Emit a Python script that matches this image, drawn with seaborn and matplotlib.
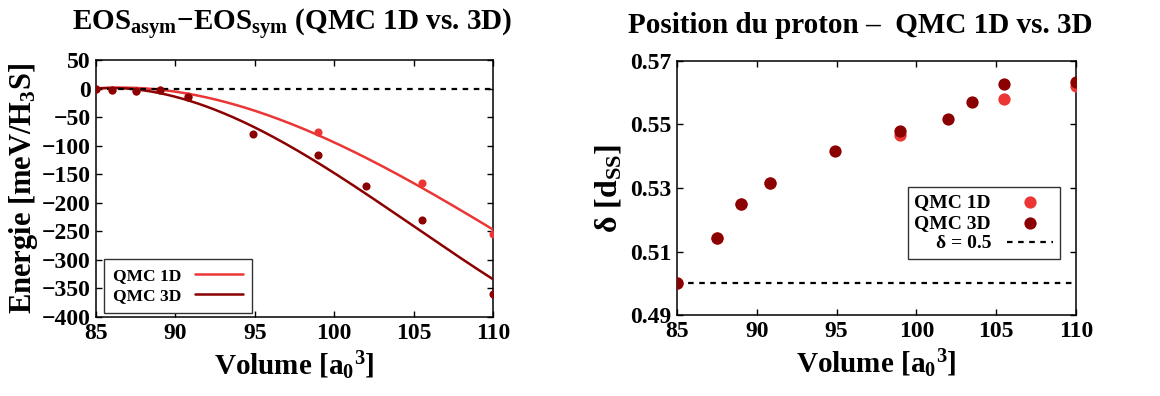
import numpy as np
import pandas as pd
import matplotlib
matplotlib.use("Agg")
import matplotlib.pyplot as plt
import seaborn as sns

# ---------------- data ----------------
# energy difference points
vol_e_1d = [85, 86, 87.5, 89, 90.8, 99, 105.5, 110]
e_1d = [0, -2.3, -3.5, -2.5, -13, -76, -166, -255]
vol_e_3d = [85, 86, 87.5, 89, 90.8, 94.9, 99, 102, 105.5, 110]
e_3d = [0, -2.3, -3.5, -2.5, -14.5, -79, -117, -171, -231, -360]

# fitted curves
vol_fit = [85, 87.5, 90, 92.5, 95, 97.5, 100, 102.5, 105, 107.5, 110]
fit_1d = [0, 1, -5, -20, -38, -64, -95, -128, -166, -205, -247]
fit_3d = [0, -3, -12, -35, -70, -108, -148, -193, -240, -287, -335]

# proton position points
vol_d_1d = [85, 87.5, 89, 90.8, 99, 105.5, 110]
d_1d = [0.500, 0.5143, 0.5249, 0.5317, 0.5467, 0.5579, 0.5620]
vol_d_3d = [85, 87.5, 89, 90.8, 94.9, 99, 102, 103.5, 105.5, 110]
d_3d = [0.500, 0.5143, 0.5249, 0.5317, 0.5417, 0.5479, 0.5516, 0.5572, 0.5629, 0.5634]

series_names = ["QMC 1D", "QMC 3D"]
delta_ref = 0.5
energy_ref = 0.0
x_ticks = [85, 90, 95, 100, 105, 110]
e_ticks = [50, 0, -50, -100, -150, -200, -250, -300, -350, -400]
d_ticks = [0.49, 0.51, 0.53, 0.55, 0.57]

# ---------------- style ----------------
sns.set_style("ticks")
plt.rcParams.update({
    "font.family": ["Liberation Serif", "DejaVu Serif"],
    "font.weight": "bold",
    "axes.labelweight": "bold",
    "axes.titleweight": "bold",
    "text.color": "black",
    "axes.labelcolor": "black",
    "axes.edgecolor": "black",
    "xtick.color": "black",
    "ytick.color": "black",
    "mathtext.fontset": "custom",
    "mathtext.rm": "Liberation Serif:bold",
    "mathtext.it": "Liberation Serif:bold:italic",
    "mathtext.bf": "Liberation Serif:bold",
    "mathtext.default": "rm",
    "axes.linewidth": 1.1,
    "xtick.direction": "in",
    "ytick.direction": "in",
    "xtick.top": True,
    "ytick.right": True,
    "xtick.major.size": 4.5,
    "ytick.major.size": 4.5,
    "xtick.major.width": 1.0,
    "ytick.major.width": 1.0,
})

c1 = "#ec3636"
c3 = "#8b0000"

fig = plt.figure(figsize=(11.6, 3.96), dpi=100)
axL = fig.add_axes([96 / 1160, 1 - 317 / 396, (493 - 96) / 1160, (317 - 60) / 396])
axR = fig.add_axes([677 / 1160, 1 - 315 / 396, (1076 - 677) / 1160, (315 - 61) / 396])

# ---------------- left panel ----------------
# smooth fit lines (cubic fit through the curve values)
xs = np.linspace(vol_fit[0], vol_fit[-1], 200)
smooth_1d = np.polyval(np.polyfit(vol_fit, fit_1d, 3), xs)
smooth_3d = np.polyval(np.polyfit(vol_fit, fit_3d, 3), xs)

df_ref = pd.DataFrame({"x": [x_ticks[0], x_ticks[-1]], "y": [energy_ref, energy_ref]})
sns.lineplot(data=df_ref, x="x", y="y", ax=axL, color="black", lw=1.6,
             linestyle=(0, (2.5, 2.5)), zorder=4)
sns.lineplot(x=xs, y=smooth_1d, ax=axL, color=c1, lw=1.8, label=series_names[0], zorder=3)
sns.lineplot(x=xs, y=smooth_3d, ax=axL, color=c3, lw=1.8, label=series_names[1], zorder=3)
sns.scatterplot(x=vol_e_1d, y=e_1d, ax=axL, color=c1, s=34, linewidth=0, zorder=5, legend=False)
sns.scatterplot(x=vol_e_3d, y=e_3d, ax=axL, color=c3, s=34, linewidth=0, zorder=6, legend=False)

axL.set_xlim(85, 110)
axL.set_ylim(-400, 50)
axL.set_xticks(x_ticks)
axL.set_yticks(e_ticks)
axL.tick_params(labelsize=17, pad=4)
axL.set_title(r"EOS$_{\rm asym}$−EOS$_{\rm sym}$ (QMC 1D vs. 3D)", fontsize=21, pad=21, x=0.494)
axL.set_xlabel(r"Volume [a$_0{}^3$]", fontsize=21, labelpad=4)
axL.set_ylabel(r"Energie [meV/H$_3$S]", fontsize=22, labelpad=1)
legL = axL.legend(loc="lower left", bbox_to_anchor=(0.02, 0.016), borderaxespad=0,
                  markerfirst=False, fontsize=12.5, frameon=True, fancybox=False,
                  edgecolor="#333333", framealpha=1, handlelength=2.8,
                  handletextpad=0.8, borderpad=0.5, labelspacing=0.25)
legL.get_frame().set_linewidth(1.0)

# ---------------- right panel ----------------
sns.scatterplot(x=vol_d_1d, y=d_1d, ax=axR, color=c1, s=78, linewidth=0, zorder=4,
                label=series_names[0])
sns.scatterplot(x=vol_d_3d, y=d_3d, ax=axR, color=c3, s=78, linewidth=0, zorder=5,
                label=series_names[1])
df_d = pd.DataFrame({"x": [x_ticks[0], x_ticks[-1]], "y": [delta_ref, delta_ref]})
sns.lineplot(data=df_d, x="x", y="y", ax=axR, color="black", lw=1.6,
             linestyle=(0, (2.5, 2.5)), label="δ = 0.5", zorder=2)

axR.set_xlim(85, 110)
axR.set_ylim(0.49, 0.57)
axR.set_xticks(x_ticks)
axR.set_yticks(d_ticks)
axR.set_yticklabels([f"{v:.2f}" for v in d_ticks])
axR.tick_params(labelsize=17, pad=4)
axR.set_title("Position du proton –  QMC 1D vs. 3D", fontsize=21, pad=20, x=0.459)
axR.set_xlabel(r"Volume [a$_0{}^3$]", fontsize=21, labelpad=4)
axR.set_ylabel(r"δ [d$_{\rm SS}$]", fontsize=23, labelpad=5)
legR = axR.legend(loc="upper right", bbox_to_anchor=(0.96, 0.504), borderaxespad=0,
                  markerfirst=False, fontsize=14, frameon=True, fancybox=False,
                  edgecolor="#333333", framealpha=1, handlelength=2.4,
                  handletextpad=0.8, borderpad=0.35, labelspacing=0.15)
legR.get_frame().set_linewidth(1.0)

fig.savefig("out.png", dpi=100)
